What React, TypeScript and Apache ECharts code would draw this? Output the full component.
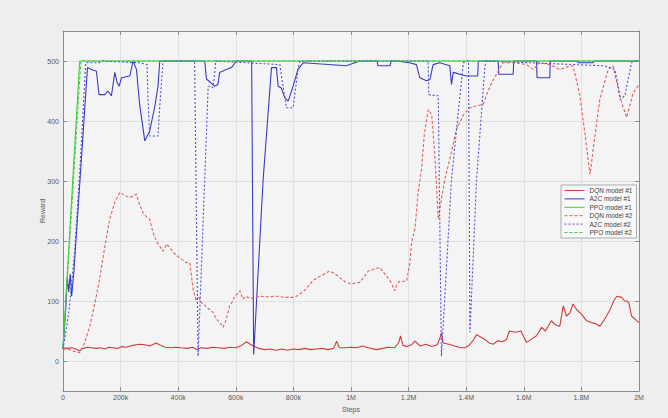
import React, { useEffect, useRef } from "react";
import * as echarts from "echarts";

// steps in thousands (k), reward values
const seriesNames = ["DQN model #1", "A2C model #1", "PPO model #1", "DQN model #2", "A2C model #2", "PPO model #2"];
const xTickValues = [0, 200, 400, 600, 800, 1000, 1200, 1400, 1600, 1800, 2000];

const dqn1: [number, number][] = [
  [0, 22], [15, 21], [30, 22], [45, 20], [58, 17], [70, 21], [85, 23], [100, 22], [115, 21], [130, 22],
  [145, 20], [160, 23], [175, 22], [190, 21], [205, 24], [220, 23], [240, 26], [255, 27], [270, 28], [285, 27],
  [300, 25], [324, 30], [340, 26], [355, 23], [375, 22], [395, 23], [410, 22], [430, 21], [450, 23], [465, 19],
  [480, 22], [500, 21], [520, 23], [540, 22], [560, 21], [580, 23], [600, 22], [620, 26], [637, 32], [650, 28],
  [665, 24], [680, 21], [700, 19], [720, 20], [740, 18], [760, 20], [780, 18], [800, 20], [820, 19], [840, 21],
  [860, 19], [880, 20], [900, 21], [920, 19], [940, 21], [950, 33], [960, 22], [980, 22], [1000, 23], [1020, 22],
  [1040, 25], [1060, 22], [1088, 19], [1110, 21], [1130, 23], [1150, 22], [1165, 30], [1172, 42], [1180, 26], [1195, 24],
  [1210, 27], [1222, 33], [1240, 25], [1260, 28], [1280, 24], [1300, 27], [1310, 40], [1314, 47], [1320, 30], [1340, 28],
  [1360, 25], [1380, 22], [1395, 22], [1410, 26], [1425, 35], [1436, 44], [1450, 40], [1465, 36], [1480, 30], [1494, 28],
  [1510, 34], [1525, 32], [1540, 36], [1550, 50], [1570, 48], [1590, 50], [1600, 40], [1610, 31], [1625, 36], [1644, 42],
  [1662, 56], [1675, 50], [1696, 67], [1710, 60], [1725, 58], [1737, 92], [1748, 75], [1760, 80], [1771, 95], [1785, 85],
  [1800, 78], [1818, 67], [1835, 64], [1850, 62], [1864, 58], [1880, 69], [1900, 86], [1912, 100], [1923, 108], [1940, 106],
  [1950, 100], [1957, 100], [1965, 97], [1974, 75], [1990, 68], [2000, 64],
];

const a2c1: [number, number][] = [
  [0, 20], [10, 90], [15, 140], [20, 115], [25, 145], [30, 108], [38, 150], [85, 489], [99, 486], [116, 483],
  [125, 444], [145, 444], [156, 450], [168, 442], [180, 481], [188, 464], [195, 458], [203, 472], [232, 475], [243, 500],
  [255, 486], [266, 428], [284, 367], [301, 383], [319, 425], [330, 458], [336, 500], [492, 500], [498, 470], [527, 458],
  [538, 461], [544, 481], [567, 486], [585, 489], [602, 500], [655, 500], [662, 11], [695, 303], [724, 489], [741, 489],
  [747, 458], [758, 455], [770, 439], [782, 433], [799, 458], [816, 486], [834, 497], [984, 492], [1030, 500], [1090, 500],
  [1094, 492], [1135, 492], [1140, 500], [1158, 500], [1204, 497], [1227, 494], [1239, 472], [1262, 467], [1274, 469], [1285, 494],
  [1308, 497], [1343, 492], [1349, 461], [1355, 481], [1400, 475], [1440, 475], [1442, 500], [1511, 500], [1513, 478], [1563, 478],
  [1565, 500], [1644, 500], [1646, 472], [1690, 472], [1692, 500], [1783, 500], [1790, 497], [1840, 497], [1845, 500], [2000, 500],
];

const ppo1: [number, number][] = [[0, 22], [58, 500], [2000, 500]];

const dqn2: [number, number][] = [
  [0, 20], [20, 19], [40, 16], [58, 14], [75, 30], [93, 58], [110, 95], [127, 136], [145, 190], [162, 236],
  [180, 265], [197, 281], [215, 276], [232, 272], [245, 276], [255, 278], [265, 262], [278, 247], [290, 240], [301, 236],
  [312, 215], [324, 200], [335, 192], [347, 183], [360, 195], [370, 189], [385, 180], [405, 172], [428, 164], [440, 164],
  [452, 119], [463, 100], [470, 108], [480, 97], [490, 95], [498, 89], [510, 86], [521, 81], [530, 72], [538, 67],
  [548, 62], [556, 56], [567, 70], [579, 92], [590, 100], [596, 108], [605, 112], [614, 117], [625, 103], [635, 108],
  [643, 106], [660, 104], [683, 108], [710, 107], [741, 108], [770, 106], [799, 106], [811, 108], [840, 118], [868, 134],
  [895, 142], [926, 150], [945, 145], [961, 139], [980, 132], [1000, 128], [1015, 130], [1030, 131], [1045, 140], [1060, 150],
  [1080, 153], [1100, 156], [1112, 148], [1123, 142], [1140, 130], [1152, 117], [1160, 128], [1170, 133], [1193, 133], [1205, 165],
  [1210, 197], [1222, 220], [1233, 281], [1245, 320], [1255, 380], [1268, 419], [1280, 411], [1290, 350], [1297, 292], [1303, 236],
  [1308, 253], [1326, 303], [1345, 340], [1366, 386], [1390, 410], [1413, 422], [1435, 425], [1459, 428], [1476, 450], [1490, 465],
  [1505, 478], [1528, 497], [1570, 497], [1610, 494], [1632, 486], [1655, 497], [1690, 494], [1725, 486], [1750, 490], [1771, 492],
  [1795, 442], [1812, 380], [1830, 311], [1841, 353], [1864, 436], [1893, 486], [1910, 492], [1920, 470], [1940, 430], [1957, 406],
  [1980, 447], [2000, 461],
];

const a2c2: [number, number][] = [
  [0, 20], [20, 80], [40, 180], [60, 330], [79, 497], [125, 497], [135, 500], [266, 497], [292, 494], [295, 439],
  [301, 375], [330, 375], [336, 425], [347, 497], [352, 500], [457, 500], [469, 8], [498, 380], [504, 458], [521, 456],
  [527, 481], [530, 500], [753, 494], [760, 470], [776, 422], [799, 422], [816, 486], [822, 500], [1268, 500], [1270, 444],
  [1303, 442], [1314, 8], [1349, 303], [1390, 497], [1400, 500], [1408, 500], [1413, 48], [1436, 303], [1465, 492], [1470, 500],
  [1880, 492], [1916, 486], [1928, 458], [1934, 436], [1951, 442], [1974, 497], [1980, 500], [2000, 500],
];

const ppo2: [number, number][] = [[0, 20], [62, 500], [2000, 500]];

const seriesData = [dqn1, a2c1, ppo1, dqn2, a2c2, ppo2];
const colors = ["#d23a3a", "#3a3ac8", "#3ccf3c", "#df5f5f", "#4e4ed2", "#44c844"];
const dashes: (number[] | "solid")[] = ["solid", "solid", "solid", [3, 2], [2, 2], [3, 2]];

const FONT = "'Liberation Sans', Arial, Helvetica, sans-serif";

function fmtX(v: number): string {
  if (v === 0) return "0";
  if (v < 1000) return v + "k";
  return v / 1000 + "M";
}

export default function App() {
  const ref = useRef<HTMLDivElement>(null);
  useEffect(() => {
    if (!ref.current) return;
    const chart = echarts.init(ref.current, undefined, { renderer: "svg" });
    const axisLineColor = "#8c8c8c";
    const labelStyle = { fontSize: 7, color: "#5a5a5a", fontFamily: FONT };
    chart.setOption({
      animation: false,
      backgroundColor: "#eeeeee",
      grid: {
        left: 63,
        right: 29,
        top: 31,
        bottom: 27,
        show: true,
        backgroundColor: "#f4f4f4",
        borderWidth: 0,
      },
      legend: {
        orient: "vertical",
        left: 561,
        top: 185,
        data: seriesNames,
        itemWidth: 20,
        itemHeight: 7,
        itemGap: 1.4,
        padding: [2, 4, 2, 3],
        borderColor: "#9a9a9a",
        borderWidth: 0.8,
        backgroundColor: "#f8f8f8",
        itemStyle: { opacity: 0 },
        lineStyle: { width: 1 },
        textStyle: { fontSize: 6.5, color: "#444", fontFamily: FONT, lineHeight: 7 },
      },
      xAxis: [
        {
          type: "value",
          min: 0,
          max: 2000,
          interval: 200,
          position: "bottom",
          name: "Steps",
          nameLocation: "middle",
          nameGap: 15,
          nameMoveOverlap: false,
          nameTextStyle: { fontSize: 7, color: "#5a5a5a", fontFamily: FONT },
          axisLine: { show: true, onZero: false, lineStyle: { color: axisLineColor, width: 1 } },
          axisTick: { show: true, inside: true, length: 4, lineStyle: { color: axisLineColor } },
          axisLabel: { ...labelStyle, margin: 3, formatter: fmtX },
          splitLine: { show: true, lineStyle: { color: "#e0e0e0", width: 1 } },
        },
        {
          type: "value",
          min: 0,
          max: 2000,
          interval: 200,
          position: "top",
          axisLine: { show: true, onZero: false, lineStyle: { color: axisLineColor, width: 1 } },
          axisTick: { show: true, inside: true, length: 4, lineStyle: { color: axisLineColor } },
          axisLabel: { show: false },
          splitLine: { show: false },
        },
      ],
      yAxis: [
        {
          type: "value",
          min: -50,
          max: 550,
          splitNumber: 6,
          position: "left",
          name: "Reward",
          nameLocation: "middle",
          nameGap: 17,
          nameMoveOverlap: false,
          nameRotate: 90,
          nameTextStyle: { fontSize: 7, color: "#5a5a5a", fontFamily: FONT },
          axisLine: { show: true, onZero: false, lineStyle: { color: axisLineColor, width: 1 } },
          axisTick: { show: true, inside: true, length: 4, lineStyle: { color: axisLineColor } },
          axisLabel: { ...labelStyle, margin: 4, showMinLabel: false, showMaxLabel: false },
          splitLine: { show: true, lineStyle: { color: "#e0e0e0", width: 1 } },
        },
        {
          type: "value",
          min: -50,
          max: 550,
          splitNumber: 6,
          position: "right",
          axisLine: { show: true, onZero: false, lineStyle: { color: axisLineColor, width: 1 } },
          axisTick: { show: true, inside: true, length: 4, lineStyle: { color: axisLineColor } },
          axisLabel: { show: false },
          splitLine: { show: false },
        },
      ],
      series: seriesNames.map((name, i) => ({
        name,
        type: "line",
        xAxisIndex: 0,
        yAxisIndex: 0,
        data: seriesData[i],
        symbol: "none",
        showSymbol: false,
        color: colors[i],
        lineStyle: { color: colors[i], width: 1.1, type: dashes[i] },
        z: 2 + i,
      })),
    });
    return () => chart.dispose();
  }, []);
  return <div ref={ref} style={{ position: "fixed", left: 0, top: 0, width: 668, height: 418 }} />;
}
